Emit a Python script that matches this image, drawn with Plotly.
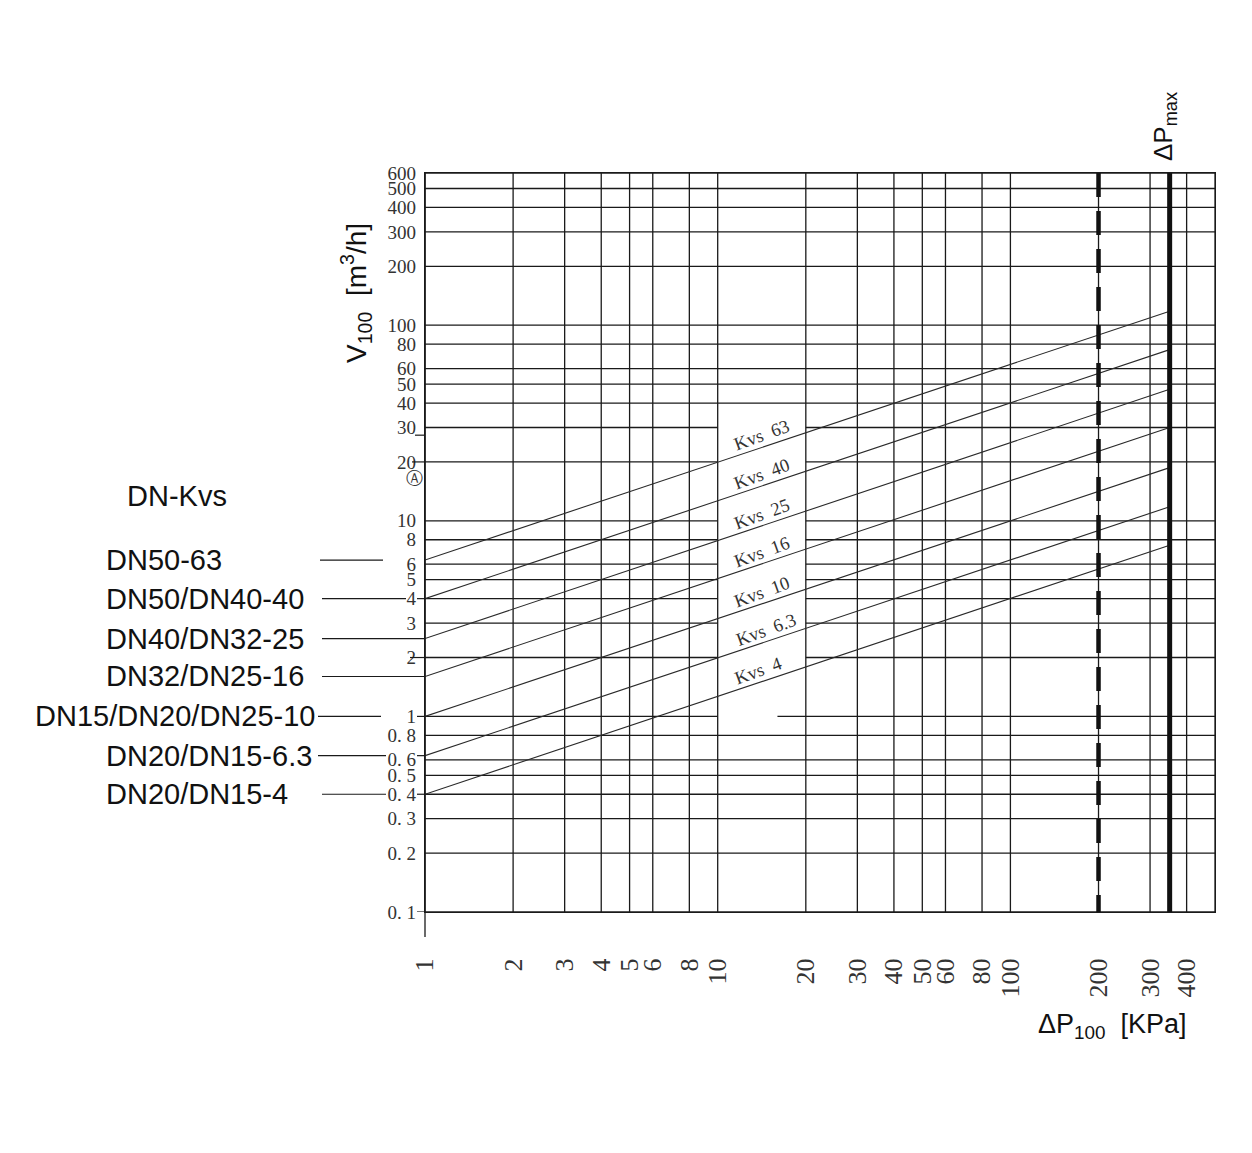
import numpy as np
import plotly.graph_objects as go

# ---------------- data ----------------
dp_ticks = [1, 2, 3, 4, 5, 6, 8, 10, 20, 30, 40, 50, 60, 80, 100, 200, 300, 400]
dp_ticktext = [str(v) for v in dp_ticks]
dp_grid = dp_ticks + [500]
v_ticks = [0.1, 0.2, 0.3, 0.4, 0.5, 0.6, 0.8, 1, 2, 3, 4, 5, 6, 8, 10, 20, 30, 40,
           50, 60, 80, 100, 200, 300, 400, 500, 600]
v_ticktext = ["0. 1", "0. 2", "0. 3", "0. 4", "0. 5", "0. 6", "0. 8", "1", "2", "3", "4",
              "5", "6", "8", "10", "20", "30", "40", "50", "60", "80", "100", "200",
              "300", "400", "500", "600"]
kvs_names = ["Kvs\u00a0\u00a063", "Kvs\u00a0\u00a040", "Kvs\u00a0\u00a025", "Kvs\u00a0\u00a016",
             "Kvs\u00a0\u00a010", "Kvs\u00a0\u00a06.3", "Kvs\u00a0\u00a04"]
v_start = [6.3, 4, 2.5, 1.6, 1, 0.63, 0.4]
v_end = [118, 75, 47, 30, 18.7, 11.8, 7.5]
dp_start = 1
dp_end = 350
dp_100 = 200
dp_max = 350
dn_labels = ["DN50-63", "DN50/DN40-40", "DN40/DN32-25", "DN32/DN25-16",
             "DN15/DN20/DN25-10", "DN20/DN15-6.3", "DN20/DN15-4"]
label_x = [14.2, 14.2, 14.2, 14.2, 14.2, 14.6, 13.7]
gap_rows = [2, 3, 4, 5, 6, 8, 10, 20, 30]
gap_box = (10, 20)
gap_one = (10, 16)

X_MIN, X_MAX = 1, 500
Y_MIN, Y_MAX = 0.1, 600

# plot area in pixels
L, R, T, B = 425, 37, 173, 241
W, H = 1252, 1153
PW, PH = W - L - R, H - T - B


def px_x(p):
    return (p - L) / PW


def px_y(p):
    return (H - B - p) / PH


GRID = "#1a1a1a"
SERIF = "Liberation Serif"
SANS = "Liberation Sans"

fig = go.Figure()

# horizontal grid
hx, hy = [], []
for v in v_ticks:
    if v in gap_rows:
        segs = [(X_MIN, gap_box[0]), (gap_box[1], X_MAX)]
    elif v == 1:
        segs = [(X_MIN, gap_one[0]), (gap_one[1], X_MAX)]
    else:
        segs = [(X_MIN, X_MAX)]
    for a, b in segs:
        hx += [a, b, None]
        hy += [v, v, None]
fig.add_trace(go.Scatter(x=hx, y=hy, mode="lines", line=dict(color=GRID, width=1.3),
                         hoverinfo="skip", showlegend=False))

# vertical grid
vx, vy = [], []
for d in dp_grid:
    vx += [d, d, None]
    vy += [Y_MIN, Y_MAX, None]
fig.add_trace(go.Scatter(x=vx, y=vy, mode="lines", line=dict(color=GRID, width=1.3),
                         hoverinfo="skip", showlegend=False))

# Kvs lines
for vs, ve in zip(v_start, v_end):
    fig.add_trace(go.Scatter(x=[dp_start, dp_end], y=[vs, ve], mode="lines",
                             line=dict(color="#2a2a2a", width=1.1),
                             hoverinfo="skip", showlegend=False))

# dP100 dashed and dPmax solid
fig.add_trace(go.Scatter(x=[dp_100, dp_100], y=[Y_MAX, Y_MIN], mode="lines",
                         line=dict(color="#111", width=4.5, dash="24px,14px"),
                         hoverinfo="skip", showlegend=False))
fig.add_trace(go.Scatter(x=[dp_max, dp_max], y=[Y_MIN, Y_MAX], mode="lines",
                         line=dict(color="#111", width=5),
                         hoverinfo="skip", showlegend=False))

shapes = []
# left axis extension below the grid
shapes.append(dict(type="line", xref="paper", yref="paper", x0=0, x1=0,
                   y0=px_y(937), y1=1, line=dict(color=GRID, width=1.3)))
# leader lines from DN labels to the axis
leader_segments = [
    [(320, 383)],
    [(322, 406), (417, 425)],
    [(322, 425)],
    [(322, 425)],
    [(318, 381), (417, 425)],
    [(318, 386), (417, 425)],
    [(322, 386), (417, 425)],
]
for v, segs in zip(v_start, leader_segments):
    for a, b in segs:
        shapes.append(dict(type="line", xref="paper", yref="y", x0=px_x(a), x1=px_x(b),
                           y0=v, y1=v, line=dict(color=GRID, width=1.2)))
# short tick stubs
stub_vals = [0.1, 2, 20, 27.4]
stub_from = [417, 410, 412, 415]
for v, a in zip(stub_vals, stub_from):
    shapes.append(dict(type="line", xref="paper", yref="y", x0=px_x(a), x1=0,
                       y0=v, y1=v, line=dict(color=GRID, width=1.2)))

annotations = []
# Kvs labels along the lines
slope = (np.log10(v_end[0]) - np.log10(v_start[0])) / (np.log10(dp_end) - np.log10(dp_start))
for name, vs, xl in zip(kvs_names, v_start, label_x):
    yl = np.log10(vs) + slope * (np.log10(xl) - np.log10(dp_start))
    annotations.append(dict(x=np.log10(xl), y=yl, xref="x", yref="y", text=name,
                            showarrow=False, textangle=-20, yshift=12,
                            xanchor="center", yanchor="middle",
                            font=dict(family=SERIF, size=18.5, color="#333")))
# DN labels
for i, (name, vs) in enumerate(zip(dn_labels, v_start)):
    if i == 4:
        annotations.append(dict(x=px_x(317), y=np.log10(vs), xref="paper", yref="y",
                                text=name, showarrow=False, xanchor="right", yanchor="middle",
                                font=dict(family=SANS, size=29, color="#111")))
    else:
        annotations.append(dict(x=px_x(104), y=np.log10(vs), xref="paper", yref="y",
                                text=name, showarrow=False, xanchor="left", yanchor="middle",
                                font=dict(family=SANS, size=29, color="#111")))
annotations.append(dict(x=px_x(177), y=px_y(496), xref="paper", yref="paper",
                        text="DN-Kvs", showarrow=False, xanchor="center", yanchor="middle",
                        font=dict(family=SANS, size=29, color="#111")))
annotations.append(dict(x=px_x(414), y=px_y(478), xref="paper", yref="paper",
                        text="\u24b6", showarrow=False, xanchor="center", yanchor="middle",
                        font=dict(family="DejaVu Sans", size=17, color="#333")))
# axis titles
annotations.append(dict(x=px_x(356), y=px_y(293), xref="paper", yref="paper",
                        text="V<sub>100</sub>\u00a0\u00a0[m<sup>3</sup>/h]", showarrow=False,
                        xanchor="center", yanchor="middle",
                        textangle=-90, font=dict(family=SANS, size=28, color="#111")))
annotations.append(dict(x=px_x(1112), y=px_y(1026), xref="paper", yref="paper",
                        text="\u0394P<sub>100</sub>\u00a0\u00a0[KPa]", showarrow=False,
                        xanchor="center", yanchor="middle",
                        font=dict(family=SANS, size=27, color="#111")))
annotations.append(dict(x=px_x(1164), y=px_y(127), xref="paper", yref="paper",
                        text="\u0394P<sub>max</sub>", showarrow=False, textangle=-90,
                        xanchor="center", yanchor="middle",
                        font=dict(family=SANS, size=26, color="#111")))

fig.update_layout(
    width=W, height=H, autosize=False,
    margin=dict(l=L, r=R, t=T, b=B, pad=0),
    paper_bgcolor="white", plot_bgcolor="white",
    showlegend=False,
    shapes=shapes, annotations=annotations,
    xaxis=dict(type="log", range=[np.log10(X_MIN), np.log10(X_MAX)], showgrid=False,
               zeroline=False, showline=True, mirror=True, linecolor=GRID, linewidth=1.3,
               tickvals=dp_ticks, ticktext=dp_ticktext, tickangle=-90, ticks="",
               ticklabelstandoff=35,
               tickfont=dict(family=SERIF, size=26, color="#333")),
    yaxis=dict(type="log", range=[np.log10(Y_MIN), np.log10(Y_MAX)], showgrid=False,
               zeroline=False, showline=True, mirror=True, linecolor=GRID, linewidth=1.3,
               tickvals=v_ticks, ticktext=v_ticktext, ticks="",
               ticklabelstandoff=4,
               tickfont=dict(family=SERIF, size=19, color="#333")),
)

fig.write_html("out.html")
